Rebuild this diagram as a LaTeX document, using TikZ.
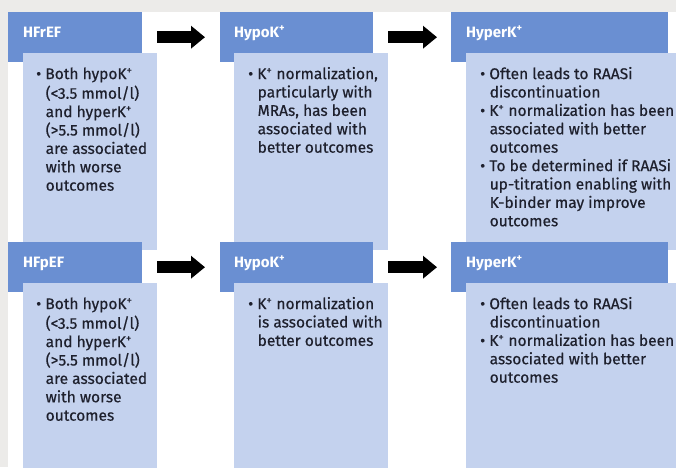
\documentclass[tikz,border=0pt]{standalone}
\usepackage{fontspec}
\setmainfont{Fira Sans}
\newfontfamily\bodyfont[FakeBold=0.5]{Fira Sans}
\usetikzlibrary{arrows.meta}
\definecolor{hdrblue}{RGB}{106,143,210}
\definecolor{bodyblue}{RGB}{196,210,238}
\definecolor{bggray}{RGB}{236,235,233}
\definecolor{txtdark}{RGB}{30,32,45}
\tikzstyle{hdr}=[rectangle,fill=hdrblue,inner sep=0,anchor=north west]
\tikzstyle{panel}=[rectangle,fill=bodyblue,inner sep=0,anchor=north west]
\tikzstyle{title}=[anchor=base west,inner sep=0,text=white,font=\fontsize{15}{17}\selectfont\bfseries]
% first line starts with a strut, so north west sits 0.7 baselineskip above its baseline
\tikzstyle{txt}=[anchor=north west,inner sep=0,align=left,text=txtdark,font=\bodyfont\fontsize{15.5}{18.4}\selectfont]
\tikzset{flow/.style={-{Triangle[width=22pt,length=14pt]},line width=12pt,black}}
\newcommand{\bulcont}{\hspace*{9.5pt}}
\newcommand{\Kp}{K\textsuperscript{+}}

\begin{document}
\begin{tikzpicture}[x=1pt,y=-1pt]

\useasboundingbox (0,0) rectangle (676,467);
\fill[bggray] (0,0) rectangle (676,467);
\fill[white] (8,12) rectangle (676,467);

% HFrEF row
\node[hdr,minimum width=134,minimum height=50] (hfref) at (8,12) {};
\node[panel,minimum width=134,minimum height=197] (hfrefbox) at (23,53) {};
\node[hdr,minimum width=153,minimum height=50] (hypoA) at (220,12) {};
\node[panel,minimum width=154,minimum height=197] (hypoAbox) at (234,53) {};
\node[hdr,minimum width=217,minimum height=50] (hyperA) at (451,12) {};
\node[panel,minimum width=230,minimum height=197] (hyperAbox) at (466,53) {};

% HFpEF row
\node[hdr,minimum width=134,minimum height=50] (hfpef) at (8,242) {};
\node[panel,minimum width=134,minimum height=197] (hfpefbox) at (23,283) {};
\node[hdr,minimum width=153,minimum height=50] (hypoB) at (220,242) {};
\node[panel,minimum width=154,minimum height=197] (hypoBbox) at (234,283) {};
\node[hdr,minimum width=217,minimum height=50] (hyperB) at (451,242) {};
\node[panel,minimum width=230,minimum height=197] (hyperBbox) at (466,283) {};

\draw[flow] (hfrefbox.east |- hfref.west) -- ([xshift=-15pt]hypoA.west);
\draw[flow] (hypoAbox.east |- hypoA.west) -- ([xshift=-14pt]hyperA.west);
\draw[flow] (hfpefbox.east |- hfpef.west) -- ([xshift=-15pt]hypoB.west);
\draw[flow] (hypoBbox.east |- hypoB.west) -- ([xshift=-14pt]hyperB.west);

\node[title] (hfreft) at (23,37) {HFrEF};
\node[title] (hypoAt) at (234,37) {Hypo\Kp};
\node[title] (hyperAt) at (466,37) {Hyper\Kp};
\node[title] (hfpeft) at (23,267) {HFpEF};
\node[title] (hypoBt) at (234,267) {Hypo\Kp};
\node[title] (hyperBt) at (466,267) {Hyper\Kp};

\node[txt] (hfreftxt) at (36,66) {\strut\textbullet\ Both hypo\Kp\\
  \bulcont(<3.5 mmol/l)\\ \bulcont and hyper\Kp\\ \bulcont(>5.5 mmol/l)\\
  \bulcont are associated\\ \bulcont with worse\\ \bulcont outcomes};
\node[txt] (hypoAtxt) at (248,66) {\strut\textbullet\ \Kp{} normalization,\\
  \bulcont particularly with\\ \bulcont MRAs, has been\\
  \bulcont associated with\\ \bulcont better outcomes};
\node[txt] (hyperAtxt) at (480,66) {\strut\textbullet\ Often leads to RAASi\\
  \bulcont discontinuation\\ \textbullet\ \Kp{} normalization has been\\
  \bulcont associated with better\\ \bulcont outcomes\\
  \textbullet\ To be determined if RAASi\\ \bulcont up-titration enabling with\\
  \bulcont K-binder may improve\\ \bulcont outcomes};

\node[txt] (hfpeftxt) at (36,296) {\strut\textbullet\ Both hypo\Kp\\
  \bulcont(<3.5 mmol/l)\\ \bulcont and hyper\Kp\\ \bulcont(>5.5 mmol/l)\\
  \bulcont are associated\\ \bulcont with worse\\ \bulcont outcomes};
\node[txt] (hypoBtxt) at (248,296) {\strut\textbullet\ \Kp{} normalization\\
  \bulcont is associated with\\ \bulcont better outcomes};
\node[txt] (hyperBtxt) at (480,296) {\strut\textbullet\ Often leads to RAASi\\
  \bulcont discontinuation\\ \textbullet\ \Kp{} normalization has been\\
  \bulcont associated with better\\ \bulcont outcomes};

\end{tikzpicture}
\end{document}
